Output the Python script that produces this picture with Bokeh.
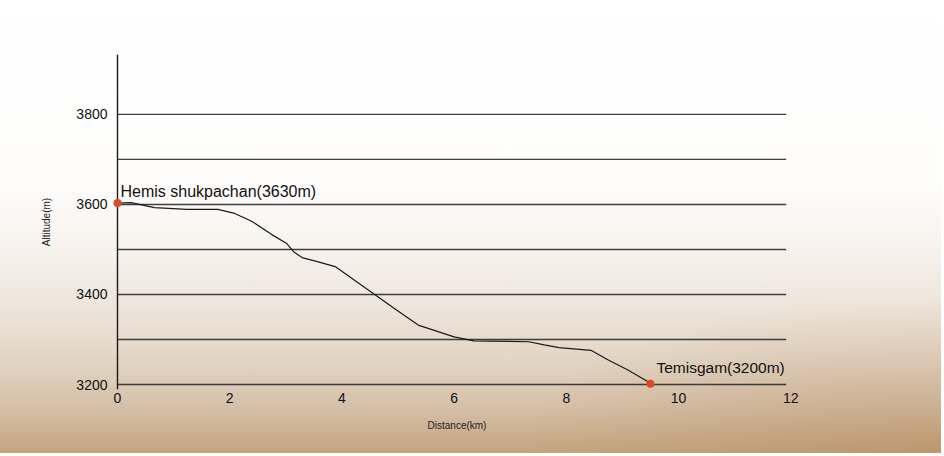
from bokeh.plotting import figure
from bokeh.models import FixedTicker, Range1d
from bokeh.embed import file_html
from bokeh.resources import INLINE

# ---- data ----
dist_km = [0.0, 0.24, 0.66, 1.24, 1.79, 2.09, 2.40, 2.75, 3.01, 3.14, 3.29, 3.53, 3.88,
           4.20, 4.54, 4.71, 4.91, 5.36, 6.00, 6.35, 7.33, 7.61, 7.87, 8.44, 8.74, 9.09, 9.46, 9.5]
alt_m = [3603, 3604, 3593, 3589, 3589, 3580, 3562, 3533, 3514, 3495, 3482, 3474, 3462,
         3434, 3404, 3389, 3371, 3332, 3306, 3297, 3295, 3288, 3282, 3276, 3255, 3233, 3206, 3202]

place_names = ["Hemis shukpachan(3630m)", "Temisgam(3200m)"]
place_km = [0.0, 9.5]
place_alt = [3603, 3202]

grid_alt = [3200, 3300, 3400, 3500, 3600, 3700, 3800]
grid_end_km = 11.92
y_ticks = [3200, 3400, 3600, 3800]
x_ticks = [0, 2, 4, 6, 8, 10, 12]

X_START, X_END = -0.196, 12.3
Y_START, Y_END = 3189, 3933

FONT = "Liberation Sans"

p = figure(frame_width=701, frame_height=335,
           min_border_left=106, min_border_top=54, min_border_right=134, min_border_bottom=64,
           x_range=Range1d(X_START, X_END), y_range=Range1d(Y_START, Y_END),
           output_backend="svg", toolbar_location=None)

p.background_fill_alpha = 0
p.border_fill_alpha = 0
p.outline_line_color = None
p.styles = {
    "background": "radial-gradient(ellipse 45% 35% at 100% 100%, rgba(175,125,75,0.35), rgba(175,125,75,0) 100%),"
                  "linear-gradient(to bottom, #ffffff 0%, #fefdfc 40%, #f7f2ed 55%, #efe7de 66%, "
                  "#e4d7c8 78%, #d6c2ab 89%, #c4a47f 100%)"
}

p.xgrid.visible = False
p.ygrid.visible = False

# gridlines
n = len(grid_alt)
p.segment(x0=[0] * n, x1=[grid_end_km] * n, y0=grid_alt, y1=grid_alt,
          line_color="#2b2b2b", line_width=1.4, line_alpha=0.9)
# vertical axis line
p.segment(x0=[0], x1=[0], y0=[Y_START], y1=[Y_END], line_color="#1a1a1a", line_width=1.4)

# profile
p.line(dist_km, alt_m, line_color="#1a1a1a", line_width=1.2)

# places
p.scatter(place_km, place_alt, size=8, color="#dd4a2a", line_color=None)
p.text(x=[place_km[0]], y=[place_alt[0]], text=[place_names[0]],
       text_font_size="16px", text_font={"value": FONT}, text_color="#111111",
       text_baseline="alphabetic", text_align="left", x_offset=3, y_offset=-12)
p.text(x=[place_km[1]], y=[place_alt[1]], text=[place_names[1]],
       text_font_size="15.5px", text_font={"value": FONT}, text_color="#111111",
       text_baseline="alphabetic", text_align="left", x_offset=6, y_offset=-16)

# axes
for ax in (p.xaxis[0], p.yaxis[0]):
    ax.axis_line_color = None
    ax.major_tick_line_color = None
    ax.minor_tick_line_color = None
    ax.major_label_text_font = FONT
    ax.major_label_text_font_size = "14px"
    ax.major_label_text_color = "#111111"
    ax.axis_label_text_font = FONT
    ax.axis_label_text_font_size = "10px"
    ax.axis_label_text_font_style = "normal"
    ax.axis_label_text_color = "#222222"

p.xaxis.ticker = FixedTicker(ticks=x_ticks)
p.yaxis.ticker = FixedTicker(ticks=y_ticks)
p.xaxis.axis_label = "Distance(km)"
p.yaxis.axis_label = "Altitude(m)"
p.xaxis.major_label_standoff = -3
p.yaxis.major_label_standoff = -7
p.xaxis.axis_label_standoff = 14
p.yaxis.axis_label_standoff = 21

open("out.html", "w").write(file_html(p, INLINE))
